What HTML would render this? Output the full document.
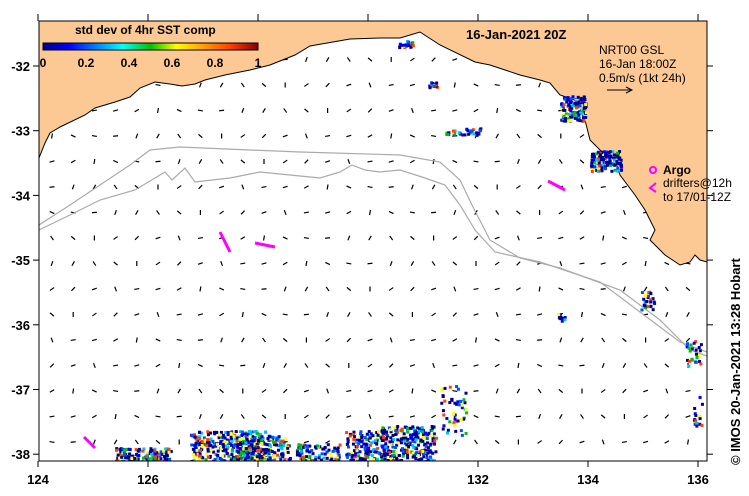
<!DOCTYPE html>
<html><head><meta charset="utf-8"><style>
html,body{margin:0;padding:0;background:#fff;}
svg{display:block;font-family:"Liberation Sans",sans-serif;}
</style></head><body>
<svg id="map" width="749" height="496" viewBox="0 0 749 496" xmlns="http://www.w3.org/2000/svg">
<defs>
<linearGradient id="jet" x1="0" x2="1" y1="0" y2="0">
<stop offset="0" stop-color="#00008f"/><stop offset="0.12" stop-color="#0000ff"/><stop offset="0.37" stop-color="#00ffff"/><stop offset="0.5" stop-color="#00c000"/><stop offset="0.62" stop-color="#ffff00"/><stop offset="0.87" stop-color="#ff4000"/><stop offset="1" stop-color="#800000"/>
</linearGradient>
<clipPath id="plotclip"><rect x="39" y="21" width="668" height="440"/></clipPath>
</defs>
<rect x="39" y="21" width="668" height="440" fill="#fff"/>
<g id="plot" clip-path="url(#plotclip)">
<g id="arrows"></g>
<polyline fill="none" stroke="#aaa" stroke-width="1.2" points="39,225 70,205 100,185 130,165 150,150 180,147 250,150 300,152 400,155 440,162 460,180 472,205 490,240 520,258 560,268 620,290 660,320 690,350 707,356"/>
<polyline fill="none" stroke="#aaa" stroke-width="1.2" points="39,230 70,215 100,200 135,190 165,172 172,180 185,168 195,182 230,178 260,172 320,178 340,172 352,165 365,170 380,172 400,170 425,178 445,185 460,205 475,230 495,252 540,262 600,282 640,312 680,342 707,352"/>
<path fill="#fcc893" stroke="#000" stroke-width="1"
d="M39,21 L707,21 L707,262 L700,260 L695,255 L690,262 L680,265 L665,255 L650,240 L655,230 L645,210 L635,195 L620,175 L615,160 L600,150 L590,140 L585,120 L575,100 L560,95 L550,83 L540,80 L520,75 L490,65 L475,62 L440,45 L420,32 L400,38 L380,38 L350,39 L310,46 L295,55 L270,65 L250,70 L225,75 L205,80 L195,84 L182,86 L170,84 L155,82 L140,88 L130,97 L115,102 L95,108 L85,115 L60,127 L50,133 L45,143 L39,158 Z"/>
<g id="speckle"></g>
<g id="drifters"></g>
</g>
<rect x="39" y="21" width="668" height="440" fill="none" stroke="#000" stroke-width="1"/>
<g id="axes"></g>
<text x="75" y="34" font-size="12" font-weight="bold">std dev of 4hr SST comp</text>
<rect x="43" y="43" width="215" height="7" fill="url(#jet)" stroke="#000" stroke-width="1"/>
<g id="cbticks" font-size="12" font-weight="bold"></g>
<text x="466" y="39" font-size="13" font-weight="bold">16-Jan-2021 20Z</text>
<g font-size="12">
<text x="599" y="54">NRT00 GSL</text>
<text x="599" y="68">16-Jan 18:00Z</text>
<text x="599" y="82">0.5m/s (1kt 24h)</text>
<path d="M607,90 L632,90 M626,87 L632,90 L626,93" stroke="#000" fill="none"/>
</g>
<g>
<circle cx="653" cy="170" r="3" fill="none" stroke="#f0f" stroke-width="2"/>
<text x="663" y="174" font-size="12" font-weight="bold">Argo</text>
<path d="M656,183 L650,188 L656,192" fill="none" stroke="#f0f" stroke-width="2"/>
<text x="663" y="187" font-size="12">drifters@12h</text>
<text x="663" y="201" font-size="12">to 17/01-12Z</text>
</g>
<text transform="translate(740,465) rotate(-90)" font-size="13" font-weight="bold">© IMOS 20-Jan-2021 13:28 Hobart</text>
</svg>
<script>
var xTicks=[124,126,128,130,132,134,136];
var yTicks=[-32,-33,-34,-35,-36,-37,-38];
var cbTicks=[0,0.2,0.4,0.6,0.8,1];
var angles=[20,-10,35,80,-40,15,60,-70,5,45,-25,90,30,-55,10,70];
function X(lon){return 38+(lon-124)*55;}
function Y(lat){return 66+(-32-lat)*64.7;}
var NS="http://www.w3.org/2000/svg";
function mk(t,a,p){var e=document.createElementNS(NS,t);for(var k in a)e.setAttribute(k,a[k]);p.appendChild(e);return e;}
var ax=document.getElementById('axes');
xTicks.forEach(function(v){var x=X(v);
var l=mk('line',{x1:x,x2:x,y1:461,y2:467,stroke:'#000'},ax);


mk('line',{x1:x,x2:x,y1:14,y2:21,stroke:'#000'},ax);
var t=mk('text',{x:x,y:484,'font-size':13,'font-weight':'bold','text-anchor':'middle'},ax);t.textContent=v;

});
yTicks.forEach(function(v){var y=Y(v);
var l=mk('line',{x1:33,x2:39,y1:y,y2:y,stroke:'#000'},ax);


mk('line',{x1:707,x2:713,y1:y,y2:y,stroke:'#000'},ax);
var t=mk('text',{x:30,y:y+5,'font-size':13,'font-weight':'bold','text-anchor':'end'},ax);t.textContent=v;

});
var cb=document.getElementById('cbticks');
cbTicks.forEach(function(v){var x=43+v*215;
var t=mk('text',{x:x,y:67,'text-anchor':'middle'},cb);t.textContent=v;

});
var ag=document.getElementById('arrows');var k=0;
for(var yy=34;yy<460;yy+=25.5){for(var xx=52;xx<705;xx+=21.2){k++;
var a=angles[(k*7+Math.floor(yy))%angles.length]*Math.PI/180,len=5;
mk('line',{x1:xx-len/2*Math.cos(a),y1:yy+len/2*Math.sin(a),x2:xx+len/2*Math.cos(a),y2:yy-len/2*Math.sin(a),stroke:'#000','stroke-width':1.2},ag);}}
var sp=document.getElementById('speckle');var seed=7;
function rnd(){seed=(seed*16807)%2147483647;return seed/2147483647;}
var cols=['#00008f','#00008f','#00008f','#00008f','#00008f','#0000ff','#0050ff','#00c0ff','#00c000','#ffff00','#ff4000'];
var regions=[[115,447,55,14,140],[190,430,80,31,320],[235,435,55,26,160],[295,443,45,18,90],[345,430,35,30,120],[380,425,55,36,260],[440,385,25,50,50],[560,95,25,25,120],[590,150,30,20,120],[445,127,35,7,40],[398,40,14,7,20],[428,80,8,8,12],[640,290,15,20,25],[685,340,15,25,25],[693,395,8,30,15],[556,312,8,8,12]];
regions.forEach(function(r){for(var i=0;i<r[4];i++){var c=cols[Math.floor(rnd()*cols.length)];
mk('rect',{x:r[0]+rnd()*r[2],y:r[1]+rnd()*r[3],width:3,height:3,fill:c},sp);}});
var dg=document.getElementById('drifters');
[[220,232,230,252],[255,243,275,247],[548,181,565,190],[84,437,95,448]].forEach(function(d){
var p=mk('line',{x1:d[0],y1:d[1],x2:d[2],y2:d[3],stroke:'#f0f','stroke-width':3},dg);

});
</script>
</body></html>
